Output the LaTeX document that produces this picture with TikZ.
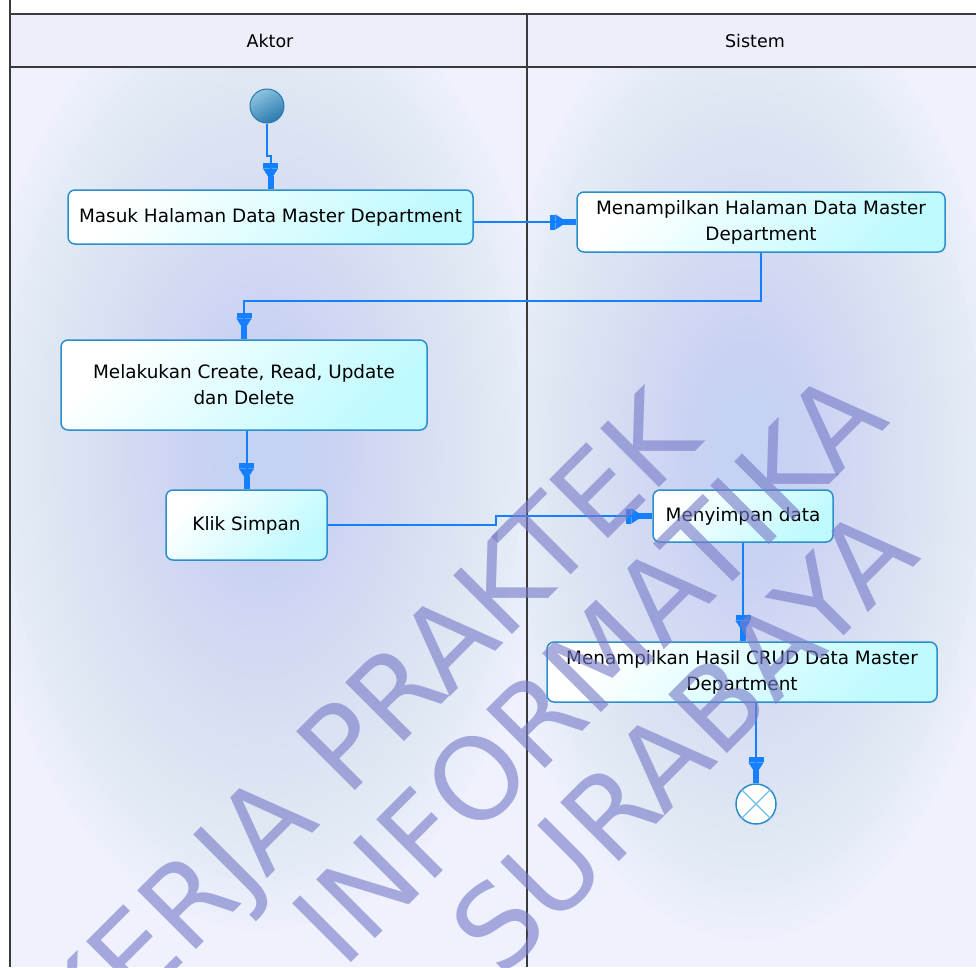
\documentclass[tikz,border=0pt]{standalone}
\usepackage{fontspec}
\setmainfont{DejaVu Sans}
\usetikzlibrary{arrows.meta}
\definecolor{laneline}{HTML}{3A3A3A}
\definecolor{headfill}{HTML}{EEEEFB}
\definecolor{bodyout}{HTML}{EFF1FD}
\definecolor{bodyin}{RGB}{196,210,243}
\definecolor{boxborder}{HTML}{2A8FCB}
\definecolor{boxcyan}{HTML}{BEFAFF}
\definecolor{flowblue}{RGB}{20,128,255}
\definecolor{wm}{RGB}{120,124,200}
\definecolor{startA}{HTML}{8CC4DF}
\definecolor{startB}{HTML}{2A7AAE}
\definecolor{endline}{HTML}{2E8BC8}
\definecolor{endx}{HTML}{6EC0E6}
\begin{document}
\begin{tikzpicture}[x=1pt,y=-1pt,
  act/.style={draw=boxborder, line width=1.5pt, rounded corners=7pt, top color=white, bottom color=boxcyan, shading angle=45, align=center, font=\fontsize{18.4}{26}\selectfont, inner sep=0pt, text=black},
  flow/.style={draw=flowblue, line width=2pt, -{Rectangle[width=15pt,length=5pt,sep=0pt]Triangle[width=15pt,length=12pt,sep=-4pt]Rectangle[width=6pt,length=13pt]}},
  lane/.style={draw=laneline, line width=1.5pt},
  hdr/.style={font=\fontsize{17.5}{20}\selectfont, inner sep=0pt},
  wmtext/.style={text=wm, text opacity=0.62, font=\fontsize{114}{120}\selectfont, inner sep=0pt, rotate=45, anchor=base east},
  blobstep/.style={fill=bodyin, fill opacity=0.03}
]
\useasboundingbox (0,0) rectangle (976,967);
\fill[white] (0,0) rectangle (976,967);
\fill[headfill] (10,14) rectangle (976,67);
\fill[bodyout] (10,67) rectangle (976,967);
\begin{scope}
  \clip (10,67) rectangle (527,967);
  \foreach \k in {1,...,40}
    \fill[blobstep] (262,450) ellipse [x radius={\k*7.25}, y radius={\k*12}];
\end{scope}
\begin{scope}
  \clip (527,67) rectangle (976,967);
  \foreach \k in {1,...,40}
    \fill[blobstep] (748,460) ellipse [x radius={\k*6.5}, y radius={\k*12}];
\end{scope}
\draw[lane] (10,0) -- (10,967);
\draw[lane] (10,14) -- (976,14);
\draw[lane] (10,67) -- (976,67);
\draw[lane] (527,14) -- (527,967);

\node[hdr] (aktor) at (270,41) {Aktor};
\node[hdr] (sistem) at (755,41) {Sistem};

\node[circle, minimum size=34pt, inner sep=0pt, draw=startB, line width=1pt, top color=startA, bottom color=startB, shading angle=30] (start) at (267,106) {};
\node[act, minimum width=405pt, minimum height=54pt] (masuk) at (270.5,217) {Masuk Halaman Data Master Department};
\node[act, minimum width=368pt, minimum height=60pt] (tampil) at (761,222) {Menampilkan Halaman Data Master\\Department};
\node[act, minimum width=366pt, minimum height=90pt] (crud) at (244,385) {Melakukan Create, Read, Update\\dan Delete};
\node[act, minimum width=161pt, minimum height=70pt] (klik) at (246.5,525) {Klik Simpan};
\node[act, minimum width=180pt, minimum height=52pt] (simpan) at (743,516) {Menyimpan data};
\node[act, minimum width=390pt, minimum height=60pt] (hasil) at (742,672) {Menampilkan Hasil CRUD Data Master\\Department};
\node[circle, minimum size=40pt, inner sep=0pt, draw=endline, fill=white, line width=1.5pt] (end) at (756,804) {};
\draw[endx, line width=1.2pt] (end.north west) -- (end.south east) (end.north east) -- (end.south west);

\draw[flow] (start.south) -- ++(0,32) -| (masuk.north);
\draw[flow] (masuk.east |- tampil.west) -- (tampil.west);
\draw[flow] (tampil.south) -- ++(0,48) -| (crud.north);
\draw[flow] (crud.south -| klik.north) -- (klik.north);
\draw[flow] (klik.east) -- ++(168,0) |- (simpan.west);
\draw[flow] (simpan.south) -- (simpan.south |- hasil.north);
\draw[flow] (hasil.south -| end.north) -- (end.north);

\begin{scope}
  \clip (0,0) rectangle (976,967);
  \node[wmtext] (wm1) at (703.9,442.3) {KERJA PRAKTEK};
  \node[wmtext] (wm2) at (891.8,422.3) {INFORMATIKA};
  \node[wmtext] (wm3) at (922.2,558.7) {SURABAYA};
\end{scope}
\end{tikzpicture}
\end{document}
